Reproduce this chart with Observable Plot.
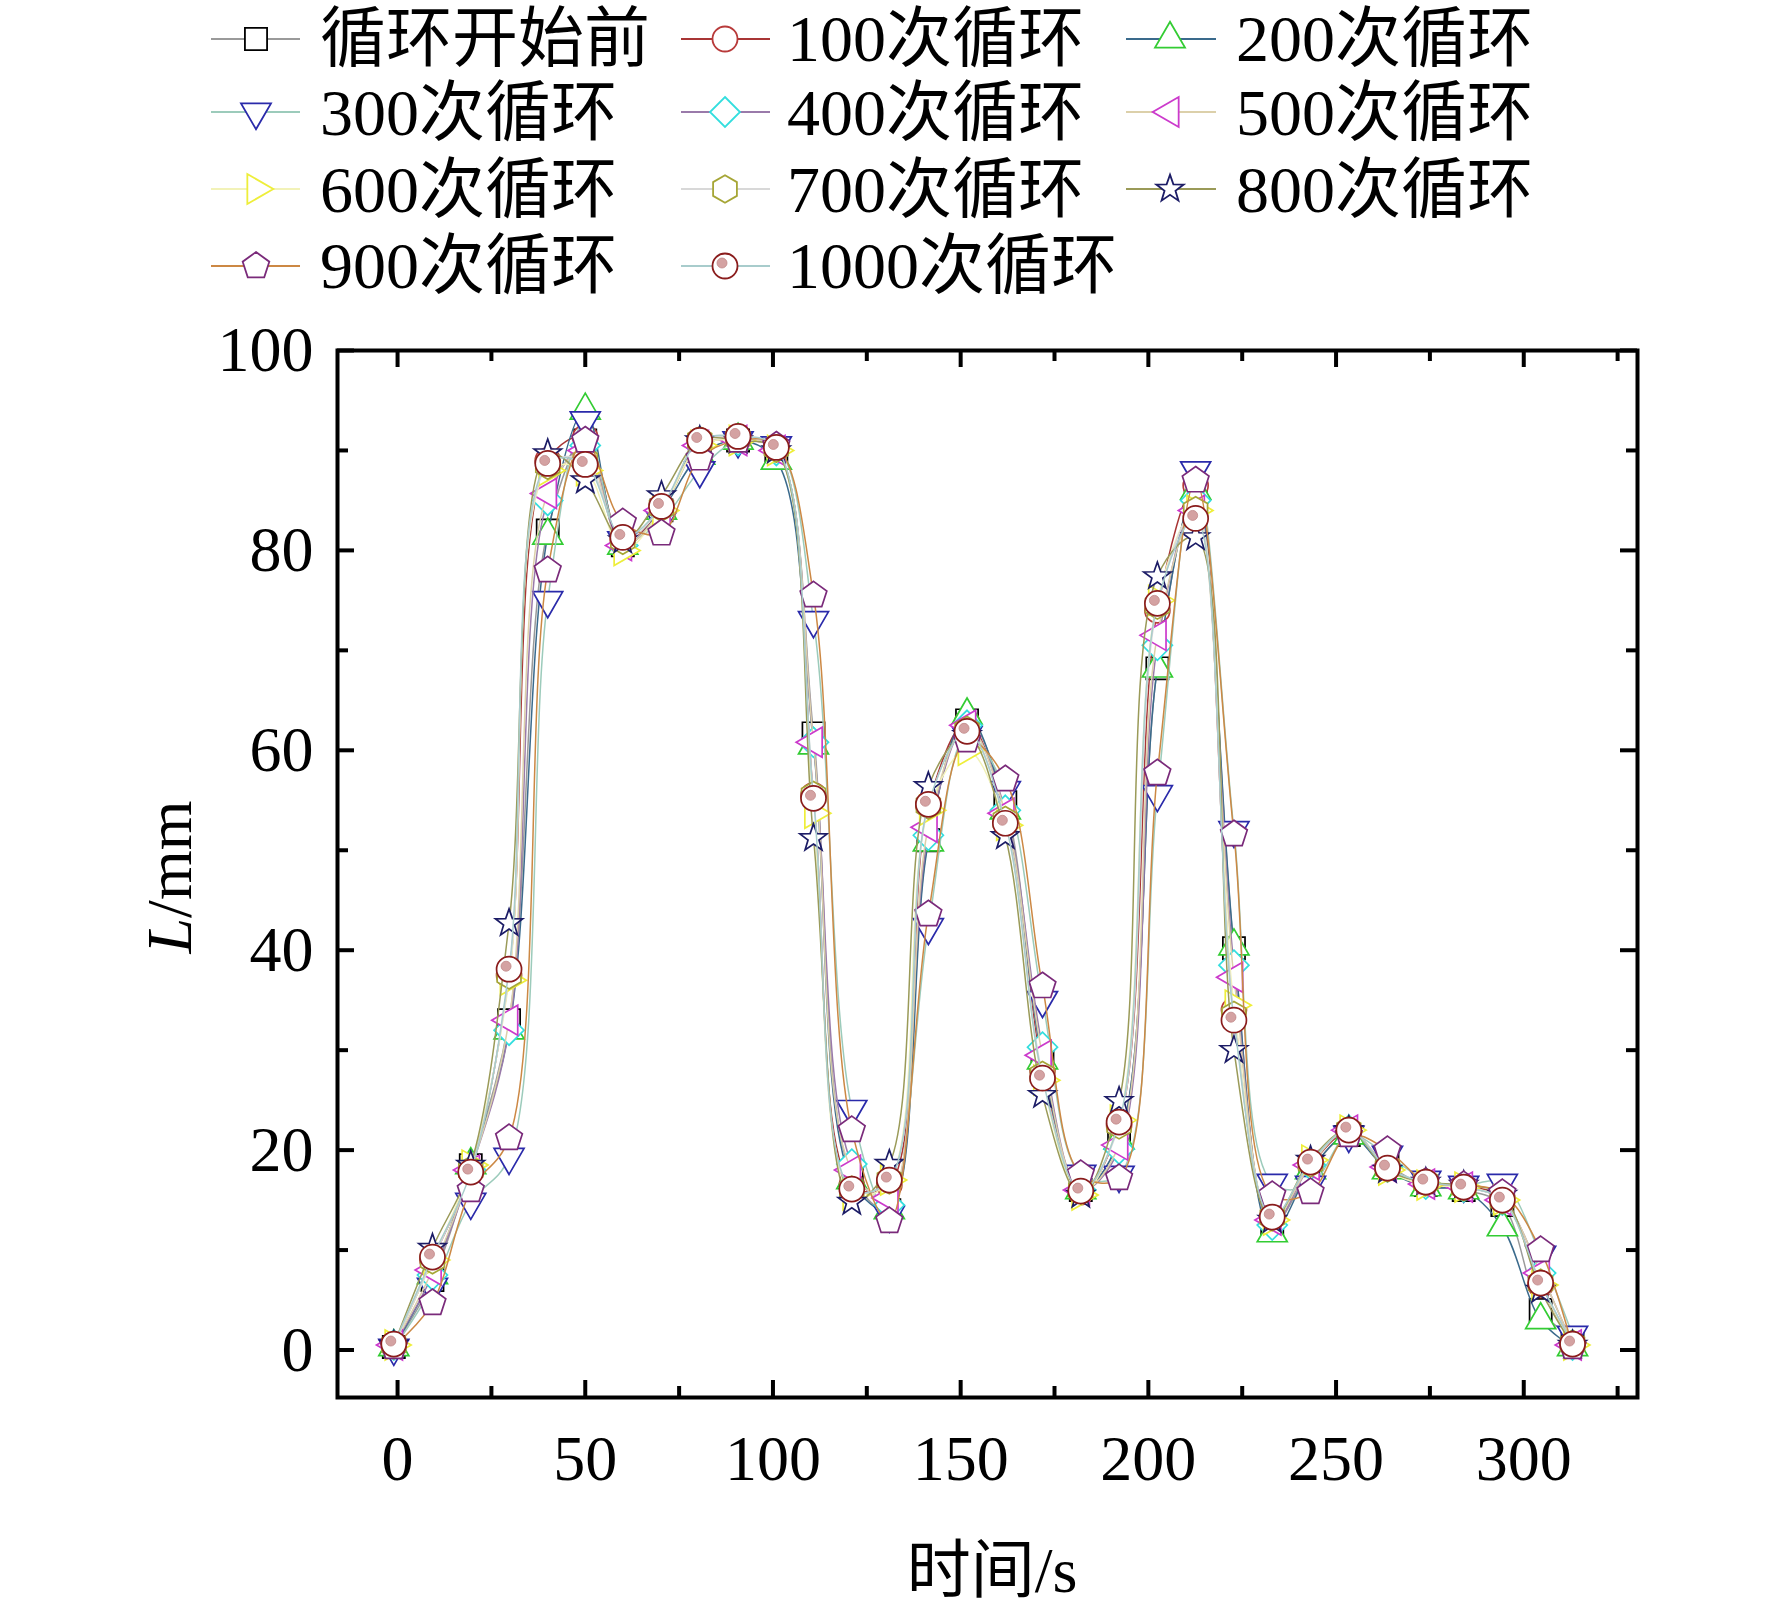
<!DOCTYPE html>
<html><head><meta charset="utf-8">
<script src="https://cdn.jsdelivr.net/npm/d3@7"></script>
<script src="https://cdn.jsdelivr.net/npm/@observablehq/plot@0.6"></script>
<style>
html,body{margin:0;padding:0;background:#fff;}
#wrap{position:relative;width:1772px;height:1611px;overflow:hidden;}
#wrap > svg{position:absolute;left:0;top:0;}
.title{position:absolute;font-family:"Liberation Serif","Noto Sans CJK SC",serif;font-size:64px;white-space:nowrap;color:#000;line-height:1;}
</style></head><body><div id="wrap"></div>
<script>
// ---------- data ----------
const time = [-1, 9.3, 19.5, 29.7, 40, 50, 60, 70.3, 80.5, 90.7, 100.9, 110.8, 121, 131, 141.4, 151.7, 161.9, 171.8, 182, 192.2, 202.4, 212.6, 222.8, 233, 243.2, 253.4, 263.7, 273.9, 284, 294.3, 304.5, 313];

const seriesNames = ["循环开始前","100次循环","200次循环","300次循环","400次循环","500次循环","600次循环","700次循环","800次循环","900次循环","1000次循环"];

const s0  = [0.3, 7.0, 18.5, 33.0, 82.0, 91.0, 80.5, 84.0, 90.5, 91.0, 90.0, 61.7, 17.5, 14.0, 51.0, 63.0, 54.8, 29.0, 16.0, 21.0, 68.2, 86.0, 40.2, 12.5, 18.0, 21.5, 18.5, 16.5, 16.0, 14.5, 4.0, 1.2];
const s100 = [0.5, 9.0, 18.0, 37.5, 89.0, 91.3, 81.0, 84.0, 91.0, 91.2, 90.2, 55.5, 16.5, 16.5, 54.5, 62.8, 53.5, 28.0, 15.8, 22.5, 74.0, 86.5, 34.0, 13.2, 18.5, 21.8, 18.3, 16.6, 16.4, 15.2, 6.5, 0.5];
const s200 = [0.3, 7.5, 18.5, 32.0, 81.5, 94.0, 80.5, 84.0, 89.5, 91.0, 89.0, 60.5, 17.0, 14.0, 50.8, 63.5, 54.0, 29.0, 16.0, 21.0, 68.2, 86.0, 40.4, 11.7, 18.0, 21.5, 18.0, 16.3, 16.0, 12.3, 3.0, 0.3];
const s300 = [0.2, 6.3, 14.8, 19.3, 75.0, 93.0, 81.0, 83.0, 88.0, 91.0, 90.5, 73.0, 24.1, 13.5, 42.3, 61.5, 56.0, 35.0, 17.6, 17.5, 55.6, 88.0, 52.0, 16.7, 16.5, 21.5, 19.5, 17.0, 16.5, 16.7, 9.5, 1.5];
const s400 = [0.5, 7.5, 18.0, 32.0, 85.0, 90.5, 80.5, 84.0, 90.5, 91.0, 90.0, 60.8, 18.6, 14.5, 51.5, 62.5, 54.0, 30.3, 16.0, 20.1, 70.5, 85.0, 38.5, 12.5, 18.5, 22.0, 18.3, 16.6, 16.3, 15.0, 7.7, 0.5];
const s500 = [0.5, 8.0, 18.0, 33.0, 85.7, 90.0, 80.5, 84.0, 90.5, 91.0, 90.0, 60.8, 18.0, 15.2, 52.3, 62.5, 53.7, 29.5, 16.0, 20.5, 71.5, 84.0, 37.3, 13.0, 18.5, 22.0, 18.3, 16.6, 16.3, 15.0, 7.7, 0.5];
const s600 = [0.5, 9.0, 18.5, 37.0, 88.0, 88.0, 80.0, 84.0, 90.5, 91.0, 90.0, 53.7, 15.5, 17.0, 54.0, 60.0, 52.5, 27.0, 15.5, 23.0, 75.0, 84.0, 34.5, 13.0, 19.0, 22.0, 18.0, 16.5, 16.3, 15.0, 6.5, 0.5];
const s700 = [0.5, 9.0, 18.0, 37.5, 88.5, 89.0, 81.0, 84.3, 91.0, 91.2, 90.2, 55.5, 16.0, 17.0, 54.5, 62.0, 53.0, 27.5, 16.0, 22.5, 74.5, 84.0, 33.5, 13.3, 18.7, 22.0, 18.2, 16.8, 16.3, 15.0, 6.7, 0.6];
const s800 = [0.5, 10.2, 18.5, 42.7, 89.7, 87.0, 81.0, 85.5, 91.0, 91.0, 90.0, 51.2, 14.8, 18.6, 56.4, 61.5, 51.4, 25.5, 15.5, 24.9, 77.4, 81.3, 30.0, 13.0, 19.0, 22.0, 18.0, 16.8, 16.5, 15.5, 6.0, 0.5];
const s900 = [0.3, 4.7, 16.0, 21.2, 78.0, 91.0, 82.8, 81.7, 89.2, 91.0, 90.5, 75.5, 22.0, 12.9, 43.6, 61.0, 57.1, 36.4, 17.6, 17.2, 57.7, 87.0, 51.6, 15.5, 15.8, 21.5, 20.0, 16.8, 16.5, 15.7, 10.0, 0.3];
const s1000 = [0.6, 9.3, 17.8, 38.1, 88.7, 88.6, 81.3, 84.4, 91.0, 91.4, 90.3, 55.2, 16.1, 17.0, 54.6, 61.9, 52.7, 27.2, 15.9, 22.8, 74.7, 83.2, 33.0, 13.3, 18.8, 22.0, 18.2, 16.8, 16.3, 15.0, 6.7, 0.6];

const xTicks = [0, 50, 100, 150, 200, 250, 300];
const xMinor = [25, 75, 125, 175, 225, 275, 325];
const yTicks = [0, 20, 40, 60, 80, 100];
const yMinor = [10, 30, 50, 70, 90];

// ---------- styles ----------
const allSeries = [s0, s100, s200, s300, s400, s500, s600, s700, s800, s900, s1000];
const lineColors = ["#9a9a9a","#a83535","#3a6a8c","#9ccbbb","#9a7aaa","#dcd0aa","#f2f2b8","#d8d8d8","#9a9a58","#cc8844","#a8cccc"];
const markColors = ["#000000","#b83a3a","#33cc33","#2a2aaa","#33dede","#cc3acc","#eeee3a","#a6a636","#1c1c66","#7a2a7a","#8a1c1c"];

function polySym(fn){
  return {draw(ctx, size){
    const r = Math.sqrt(size / Math.PI);
    const pts = fn(r);
    pts.forEach(([x, y], i) => i ? ctx.lineTo(x, y) : ctx.moveTo(x, y));
    ctx.closePath();
  }};
}
const triH = r => 2.4 * r * Math.sqrt(3) / 2;
const symTriUp = polySym(r => { const s = 2.4*r, h = triH(r); return [[0,-2*h/3],[s/2,h/3],[-s/2,h/3]]; });
const symTriDown = polySym(r => { const s = 2.4*r, h = triH(r); return [[0,2*h/3],[s/2,-h/3],[-s/2,-h/3]]; });
const symTriLeft = polySym(r => { const s = 2.4*r, h = triH(r); return [[-2*h/3,0],[h/3,s/2],[h/3,-s/2]]; });
const symTriRight = polySym(r => { const s = 2.4*r, h = triH(r); return [[2*h/3,0],[-h/3,s/2],[-h/3,-s/2]]; });
const symDiamond = polySym(r => { const a = 1.2*r; return [[0,-a],[a,0],[0,a],[-a,0]]; });
const symPent = polySym(r => d3.range(5).map(k => { const R = 1.12*r, a = (-90 + 72*k) * Math.PI/180; return [R*Math.cos(a), R*Math.sin(a)]; }));
const symHex = polySym(r => d3.range(6).map(k => { const R = 1.1*r, a = (-90 + 60*k) * Math.PI/180; return [R*Math.cos(a), R*Math.sin(a)]; }));
const symStar = polySym(r => d3.range(10).map(k => { const R = (k % 2 ? 0.46 : 1.15)*r, a = (-90 + 36*k) * Math.PI/180; return [R*Math.cos(a), R*Math.sin(a)]; }));
const symbols = [d3.symbolSquare, d3.symbolCircle, symTriUp, symTriDown, symDiamond, symTriLeft, symTriRight, symHex, symStar, symPent, d3.symbolCircle];

const rows = allSeries.map((vals, i) => vals.map((v, j) => ({t: time[j], v, s: i})));

// ---------- plot ----------
const W = 1772, H = 1611, mT = 350, mR = 135, mB = 214, mL = 337;
const innerH = H - mT - mB, innerW = W - mL - mR;
const font = "'Liberation Serif','Noto Sans CJK SC',serif";

const marks = [];
rows.forEach((data, i) => {
  marks.push(Plot.line(data, {x: "t", y: "v", stroke: lineColors[i], strokeWidth: 1.5, curve: "catmull-rom"}));
  marks.push(Plot.dot(data, {x: "t", y: "v", symbol: symbols[i], r: 12.5, stroke: markColors[i], strokeWidth: 1.7, fill: "white"}));
  if (i === 10) marks.push(Plot.dot(data, {x: "t", y: "v", r: 5, dx: -3, dy: -3, fill: "#d4a2a2", stroke: "#c08888", strokeWidth: 0.8}));
});

const chart = Plot.plot({
  width: W, height: H,
  marginTop: mT, marginRight: mR, marginBottom: mB, marginLeft: mL,
  style: {fontFamily: font, fontSize: "64px", background: "transparent", overflow: "visible", color: "#000"},
  x: {domain: [-16, 330.3]},
  y: {domain: [-4.75, 100]},
  marks: [
    ...marks,
    Plot.frame({stroke: "black", strokeWidth: 4}),
    Plot.tickX(xTicks, {x: d => d, stroke: "black", strokeWidth: 4, insetTop: innerH - 17}),
    Plot.tickX(xTicks, {x: d => d, stroke: "black", strokeWidth: 4, insetBottom: innerH - 17}),
    Plot.tickX(xMinor, {x: d => d, stroke: "black", strokeWidth: 4, insetTop: innerH - 11}),
    Plot.tickX(xMinor, {x: d => d, stroke: "black", strokeWidth: 4, insetBottom: innerH - 11}),
    Plot.tickY(yTicks, {y: d => d, stroke: "black", strokeWidth: 4, insetRight: innerW - 17}),
    Plot.tickY(yTicks, {y: d => d, stroke: "black", strokeWidth: 4, insetLeft: innerW - 17}),
    Plot.tickY(yMinor, {y: d => d, stroke: "black", strokeWidth: 4, insetRight: innerW - 11}),
    Plot.tickY(yMinor, {y: d => d, stroke: "black", strokeWidth: 4, insetLeft: innerW - 11}),
    Plot.axisX({ticks: xTicks, tickSize: 0, tickPadding: 37, tickFormat: d => String(d), label: null, fontSize: 64, fontFamily: font}),
    Plot.axisY({ticks: yTicks, tickSize: 0, tickPadding: 24, tickFormat: d => String(d), label: null, fontSize: 64, fontFamily: font})
  ]
});
const wrap = document.getElementById("wrap");
wrap.appendChild(chart);

// ---------- legend ----------
const colLine = [[211, 300], [681, 770], [1126, 1216]];
const colSym = [256, 725, 1170];
const colText = [320, 787, 1236];
const rowY = [39, 112, 189, 266];
const rowBase = [61, 135, 212, 288];

const leg = d3.create("svg").attr("width", W).attr("height", 320)
  .style("position", "absolute").style("left", "0px").style("top", "0px");
seriesNames.forEach((name, k) => {
  const r = Math.floor(k / 3), c = k % 3;
  leg.append("line").attr("x1", colLine[c][0]).attr("x2", colLine[c][1])
    .attr("y1", rowY[r]).attr("y2", rowY[r]).attr("stroke", lineColors[k]).attr("stroke-width", 2.2);
  leg.append("path").attr("d", d3.symbol(symbols[k], Math.PI * 12.5 * 12.5)())
    .attr("transform", `translate(${colSym[c]},${rowY[r]})`)
    .attr("fill", "white").attr("stroke", markColors[k]).attr("stroke-width", 1.8);
  if (k === 10) {
    leg.append("circle").attr("cx", colSym[c] - 3).attr("cy", rowY[r] - 3).attr("r", 5)
      .attr("fill", "#d4a2a2").attr("stroke", "#c08888").attr("stroke-width", 0.8);
  }
  leg.append("text").attr("x", colText[c]).attr("y", rowBase[r])
    .attr("font-family", font).attr("font-size", 66).attr("fill", "#000").text(name);
});
wrap.appendChild(leg.node());

// ---------- axis titles ----------
const xt = document.createElement("div");
xt.className = "title";
xt.style.left = "992px"; xt.style.top = "1571px";
xt.style.transform = "translate(-50%,-50%)";
xt.textContent = "时间/s";
wrap.appendChild(xt);

const yt = document.createElement("div");
yt.className = "title";
yt.style.left = "170px"; yt.style.top = "877px";
yt.style.transform = "translate(-50%,-50%) rotate(-90deg)";
yt.innerHTML = "<i>L</i>/mm";
wrap.appendChild(yt);
</script></body></html>
